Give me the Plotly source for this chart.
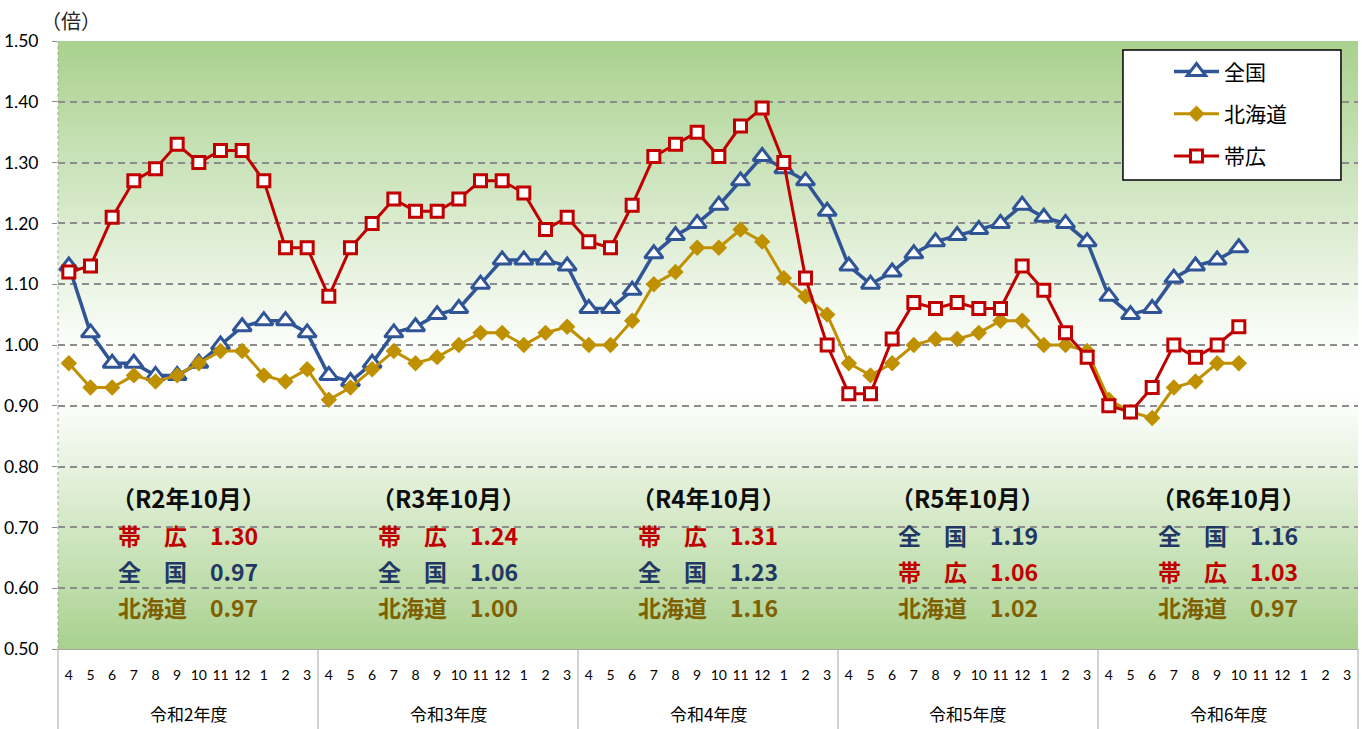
import plotly.graph_objects as go

# ---------------- data ----------------
fiscal_years = ["令和2年度", "令和3年度", "令和4年度", "令和5年度", "令和6年度"]
year_codes = ["R2", "R3", "R4", "R5", "R6"]
months = ["4", "5", "6", "7", "8", "9", "10", "11", "12", "1", "2", "3"]

national = [1.13, 1.02, 0.97, 0.97, 0.95, 0.95, 0.97, 1.00, 1.03, 1.04, 1.04, 1.02,
            0.95, 0.94, 0.97, 1.02, 1.03, 1.05, 1.06, 1.10, 1.14, 1.14, 1.14, 1.13,
            1.06, 1.06, 1.09, 1.15, 1.18, 1.20, 1.23, 1.27, 1.31, 1.29, 1.27, 1.22,
            1.13, 1.10, 1.12, 1.15, 1.17, 1.18, 1.19, 1.20, 1.23, 1.21, 1.20, 1.17,
            1.08, 1.05, 1.06, 1.11, 1.13, 1.14, 1.16]
hokkaido = [0.97, 0.93, 0.93, 0.95, 0.94, 0.95, 0.97, 0.99, 0.99, 0.95, 0.94, 0.96,
            0.91, 0.93, 0.96, 0.99, 0.97, 0.98, 1.00, 1.02, 1.02, 1.00, 1.02, 1.03,
            1.00, 1.00, 1.04, 1.10, 1.12, 1.16, 1.16, 1.19, 1.17, 1.11, 1.08, 1.05,
            0.97, 0.95, 0.97, 1.00, 1.01, 1.01, 1.02, 1.04, 1.04, 1.00, 1.00, 0.99,
            0.91, 0.89, 0.88, 0.93, 0.94, 0.97, 0.97]
obihiro = [1.12, 1.13, 1.21, 1.27, 1.29, 1.33, 1.30, 1.32, 1.32, 1.27, 1.16, 1.16,
           1.08, 1.16, 1.20, 1.24, 1.22, 1.22, 1.24, 1.27, 1.27, 1.25, 1.19, 1.21,
           1.17, 1.16, 1.23, 1.31, 1.33, 1.35, 1.31, 1.36, 1.39, 1.30, 1.11, 1.00,
           0.92, 0.92, 1.01, 1.07, 1.06, 1.07, 1.06, 1.06, 1.13, 1.09, 1.02, 0.98,
           0.90, 0.89, 0.93, 1.00, 0.98, 1.00, 1.03]

series_names = ["全国", "北海道", "帯広"]
series_labels = ["全　国", "北海道", "帯　広"]
series_values = [national, hokkaido, obihiro]
highlight_month = "10"

# ---------------- styles ----------------
line_colors = ["#2f5597", "#bf9000", "#c00000"]
text_colors = ["#1f3864", "#7f6000", "#c00000"]
JP = "Noto Sans CJK JP"
NUM = "Lato"

n_years = len(fiscal_years)
n_months = len(months)
n_total = n_years * n_months
tick_positions = list(range(n_total))
tick_labels = [m for _ in fiscal_years for m in months]

fig = go.Figure()
markers = [
    dict(symbol="triangle-up", size=16, color="white", line=dict(color=line_colors[0], width=3)),
    dict(symbol="diamond", size=11, color=line_colors[1], line=dict(color=line_colors[1], width=1.5)),
    dict(symbol="square", size=12, color="white", line=dict(color=line_colors[2], width=3)),
]
widths = [3.5, 3, 3]
for i, (name, vals) in enumerate(zip(series_names, series_values)):
    fig.add_trace(go.Scatter(
        x=tick_positions[:len(vals)], y=vals, name=name, mode="lines+markers",
        line=dict(color=line_colors[i], width=widths[i]), marker=markers[i],
        legendgroup=name,
    ))

# ---------------- background gradient ----------------
green = (169, 209, 142)
white = (255, 255, 255)


def grad(v):
    if v < 0.92:
        t = (0.92 - v) / 0.42
    elif v > 0.98:
        t = (v - 0.98) / 0.52
    else:
        t = 0.0
    t = max(0.0, min(1.0, t))
    c = [round(w + (g - w) * t) for g, w in zip(green, white)]
    return "rgb(%d,%d,%d)" % tuple(c)


shapes = []
N = 120
for k in range(N):
    y0 = 0.5 + k / N
    y1 = min(1.5, y0 + 1 / N + 0.002)
    shapes.append(dict(type="rect", xref="paper", yref="y", x0=0, x1=1, y0=y0, y1=y1,
                       fillcolor=grad((y0 + y1) / 2), line=dict(width=0), layer="below"))
# dotted left axis line
shapes.append(dict(type="line", xref="paper", yref="paper", x0=0, x1=0, y0=0, y1=1,
                   line=dict(color="#a6a6a6", width=1, dash="dot"), layer="above"))
# fiscal-year dividers below the axis
for k in range(n_years + 1):
    xp = k / n_years
    shapes.append(dict(type="line", xref="paper", yref="paper", x0=xp, x1=xp, y0=0, y1=-0.135,
                       line=dict(color="#a6a6a6", width=1), layer="above"))
# legend box
shapes.append(dict(type="rect", xref="paper", yref="paper", x0=0.8192, x1=0.9869,
                   y0=0.7714, y1=0.9852, fillcolor="white",
                   line=dict(color="black", width=1.5), layer="above"))

# ---------------- annotations ----------------
annotations = [dict(text="（倍）", xref="paper", yref="paper", x=0.010, y=1.034,
                    xanchor="center", yanchor="middle", showarrow=False,
                    font=dict(family=JP, size=20, color="#262626"))]
for k, fy in enumerate(fiscal_years):
    annotations.append(dict(text=fy, xref="paper", yref="paper", x=(k + 0.5) / n_years,
                            y=-0.1053, xanchor="center", yanchor="middle", showarrow=False,
                            font=dict(family=JP, size=17, color="black")))
mi = months.index(highlight_month)
row_y = [0.688, 0.628, 0.569]
for k, code in enumerate(year_codes):
    xc = (k + 0.5) / n_years
    annotations.append(dict(text="（%s年%s月）" % (code, highlight_month), xref="paper", yref="y",
                            x=xc, y=0.749, xanchor="center", yanchor="middle", showarrow=False,
                            font=dict(family=JP, size=24, color="#0d0d0d", weight="bold")))
    idx = k * n_months + mi
    order = sorted(range(len(series_names)), key=lambda s: -series_values[s][idx])
    for r, s in enumerate(order):
        annotations.append(dict(text="%s　%.2f" % (series_labels[s], series_values[s][idx]),
                                xref="paper", yref="y", x=xc, y=row_y[r],
                                xanchor="center", yanchor="middle", showarrow=False,
                                font=dict(family=JP, size=23, color=text_colors[s], weight="bold")))

fig.update_layout(
    width=1362, height=729,
    margin=dict(l=58, r=4, t=41, b=80, autoexpand=False),
    paper_bgcolor="white", plot_bgcolor="white",
    shapes=shapes, annotations=annotations,
    showlegend=True,
    legend=dict(x=0.8546, y=0.983, xanchor="left", yanchor="top", bgcolor="rgba(0,0,0,0)",
                borderwidth=0, font=dict(family=JP, size=21, color="black"),
                traceorder="grouped", tracegroupgap=12, itemwidth=45),
    xaxis=dict(type="linear", range=[-0.5, n_total - 0.5], autorange=False,
               tickmode="array", tickvals=tick_positions, ticktext=tick_labels,
               automargin=False, tickangle=0, ticklabelstandoff=13,
               showline=True, linecolor="#a6a6a6", linewidth=1, zeroline=False,
               showgrid=False, ticks="", tickfont=dict(family=NUM, size=14, color="black")),
    yaxis=dict(range=[0.5, 1.5], dtick=0.1, tick0=0.5, tickformat=".2f", automargin=False,
               showgrid=True, gridcolor="#8c8c8c", gridwidth=2, griddash="7px,5px",
               zeroline=False, showline=False, ticks="outside", ticklen=5,
               tickcolor="#8c8c8c", ticklabelstandoff=10,
               tickfont=dict(family=NUM, size=17.5, color="black")),
)

fig.write_html("out.html", config={"displayModeBar": False},
               post_script="document.body.style.margin='0px';")
